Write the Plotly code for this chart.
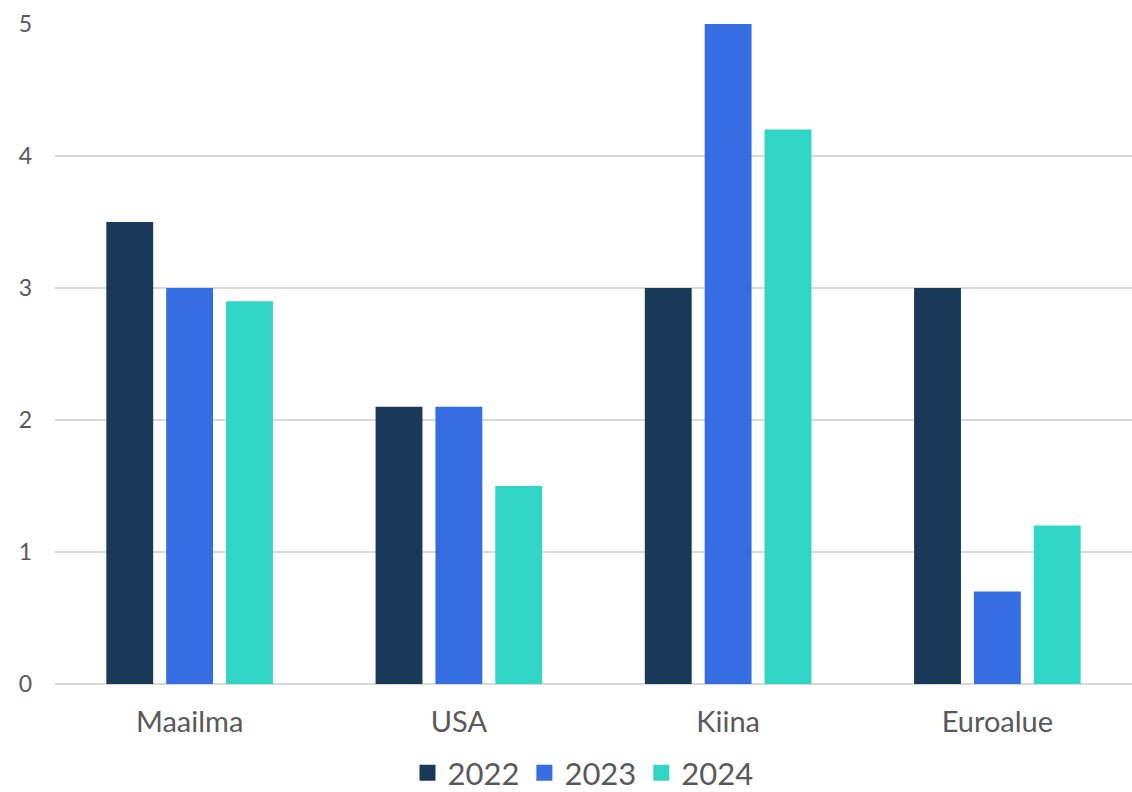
import plotly.graph_objects as go

categories = ["Maailma", "USA", "Kiina", "Euroalue"]
years = ["2022", "2023", "2024"]
v2022 = [3.5, 2.1, 3.0, 3.0]
v2023 = [3.0, 2.1, 5.0, 0.7]
v2024 = [2.9, 1.5, 4.2, 1.2]
colors = ["#1a3857", "#356de3", "#30d5c5"]
ytick_vals = [0, 1, 2, 3, 4, 5]

fig = go.Figure()
for name, vals, col in zip(years, [v2022, v2023, v2024], colors):
    fig.add_trace(go.Bar(x=categories, y=vals, name=name, showlegend=False,
                         marker=dict(color=col, line=dict(width=0))))
# legend entries with larger square markers
for name, col in zip(years, colors):
    fig.add_trace(go.Scatter(x=[None], y=[None], mode="markers", name=name,
                             marker=dict(symbol="square", size=16, color=col)))

fig.update_layout(
    width=1132, height=792,
    margin=dict(l=55, r=0, t=24, b=108, autoexpand=False),
    paper_bgcolor="white", plot_bgcolor="white",
    barmode="group", bargap=0.333, bargroupgap=0.217,
    font=dict(family="Lato", color="#595959"),
    showlegend=True,
    legend=dict(orientation="h", x=0.515, xanchor="center", xref="container",
                y=0.024, yanchor="middle", yref="container",
                font=dict(size=31, color="#595959"), itemwidth=30,
                traceorder="normal", itemsizing="trace"),
    xaxis=dict(showgrid=False, showline=False, ticks="", automargin=False,
               ticklabelstandoff=18,
               tickfont=dict(size=29, color="#595959")),
    yaxis=dict(range=[0, 5], tickvals=ytick_vals, showgrid=True, automargin=False,
               gridcolor="#d9d9d9", gridwidth=2, zeroline=True,
               zerolinecolor="#d9d9d9", zerolinewidth=2,
               showline=False, ticks="", ticklabelstandoff=22,
               tickfont=dict(size=23, color="#595959")),
)

fig.write_html("out.html")
